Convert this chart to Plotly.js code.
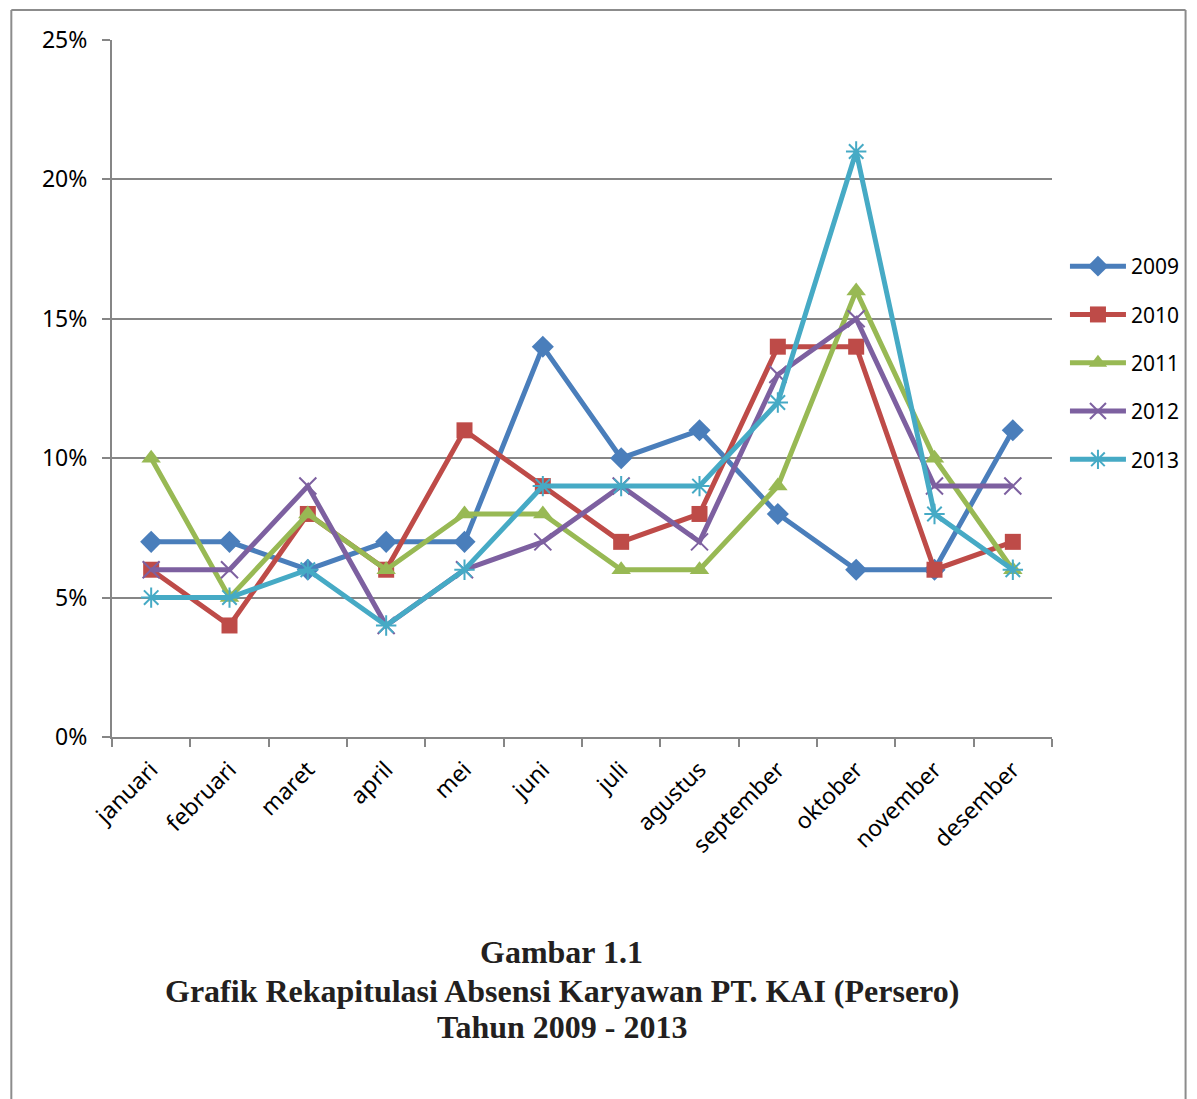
<!DOCTYPE html>
<html>
<head>
<meta charset="utf-8">
<script src="https://cdn.plot.ly/plotly-3.0.1.min.js"></script>
<style>html,body{margin:0;padding:0;background:#fff;}#chart{width:1197px;height:1099px;}</style>
</head>
<body>
<div id="chart"></div>
<script>
const months = ["januari","februari","maret","april","mei","juni","juli","agustus","september","oktober","november","desember"];
const y2009 = [0.07,0.07,0.06,0.07,0.07,0.14,0.10,0.11,0.08,0.06,0.06,0.11];
const y2010 = [0.06,0.04,0.08,0.06,0.11,0.09,0.07,0.08,0.14,0.14,0.06,0.07];
const y2011 = [0.10,0.05,0.08,0.06,0.08,0.08,0.06,0.06,0.09,0.16,0.10,0.06];
const y2012 = [0.06,0.06,0.09,0.04,0.06,0.07,0.09,0.07,0.13,0.15,0.09,0.09];
const y2013 = [0.05,0.05,0.06,0.04,0.06,0.09,0.09,0.09,0.12,0.21,0.08,0.06];
const seriesNames = ["2009","2010","2011","2012","2013"];
const titleLines = ["Gambar 1.1","Grafik Rekapitulasi Absensi Karyawan PT. KAI (Persero)","Tahun 2009 - 2013"];

const colors = ["#4A7EBB","#BE4B48","#98B954","#7D60A0","#46AAC5"];
const markers = [
  {symbol:"diamond", size:17},
  {symbol:"square", size:16},
  {symbol:"triangle-up", size:17},
  {symbol:"x-thin-open", size:17, line:{width:2}},
  {symbol:"asterisk-open", size:17, line:{width:2}}
];
const allY = [y2009,y2010,y2011,y2012,y2013];
const traces = allY.map((ys,i)=>{
  const m = Object.assign({color:colors[i]}, markers[i]);
  if (m.line) m.line.color = colors[i];
  return {
    type:"scatter", mode:"lines+markers", name:seriesNames[i],
    x:months, y:ys, legendgroup:"g"+i,
    line:{color:colors[i], width:5},
    marker:m
  };
});

// plot area: x 112..1055, y 40..737
const L=112, R=1055, T=40, B=737, W=1197, H=1099;
const px = x => (x-L)/(R-L);
const py = y => (B-y)/(B-T);
const borderColor="#8c8c8c";
const shapes = [
  {type:"line", xref:"paper", yref:"paper", x0:px(11), x1:px(11), y0:py(1110), y1:py(10), line:{color:borderColor,width:2}},
  {type:"line", xref:"paper", yref:"paper", x0:px(11), x1:px(1189), y0:py(10), y1:py(10), line:{color:borderColor,width:2}},
  {type:"line", xref:"paper", yref:"paper", x0:px(1189), x1:px(1189), y0:py(1110), y1:py(10), line:{color:borderColor,width:2}}
];
const titleY = [952, 991, 1027];
const annotations = titleLines.map((t,i)=>({
  text:"<b>"+t+"</b>", xref:"paper", yref:"paper", x:px(563), y:py(titleY[i]),
  xanchor:"center", yanchor:"middle", showarrow:false,
  font:{family:"Liberation Serif", size:32, color:"#231f20"}
}));

const layout = {
  width:W, height:H,
  margin:{l:L, r:W-R, t:T, b:H-B, pad:0},
  paper_bgcolor:"#fff", plot_bgcolor:"#fff",
  font:{family:"Noto Sans, Open Sans, sans-serif", size:22, color:"#000"},
  showlegend:true,
  legend:{x:px(1068), y:py(246), xanchor:"left", yanchor:"top", font:{size:21}, tracegroupgap:18, itemwidth:56, bgcolor:"rgba(0,0,0,0)"},
  xaxis:{type:"category", tickangle:-45, showgrid:false, showline:true, linecolor:"#868686", linewidth:2,
         ticks:"outside", ticklen:8, tickcolor:"#868686", tickwidth:2, tickson:"boundaries",
         tickfont:{size:23}, range:[-0.5,11.5], zeroline:false, fixedrange:true, ticklabelstandoff:8},
  yaxis:{range:[0,0.25], dtick:0.05, tickformat:".0%", showgrid:true, gridcolor:"#868686", gridwidth:2,
         showline:true, linecolor:"#868686", linewidth:2, ticks:"outside", ticklen:8, tickcolor:"#868686", tickwidth:2,
         zeroline:false, tickfont:{size:23}, ticklabelstandoff:10, fixedrange:true},
  shapes:shapes, annotations:annotations
};
Plotly.newPlot("chart", traces, layout, {displayModeBar:false, staticPlot:true});
</script>
</body>
</html>
